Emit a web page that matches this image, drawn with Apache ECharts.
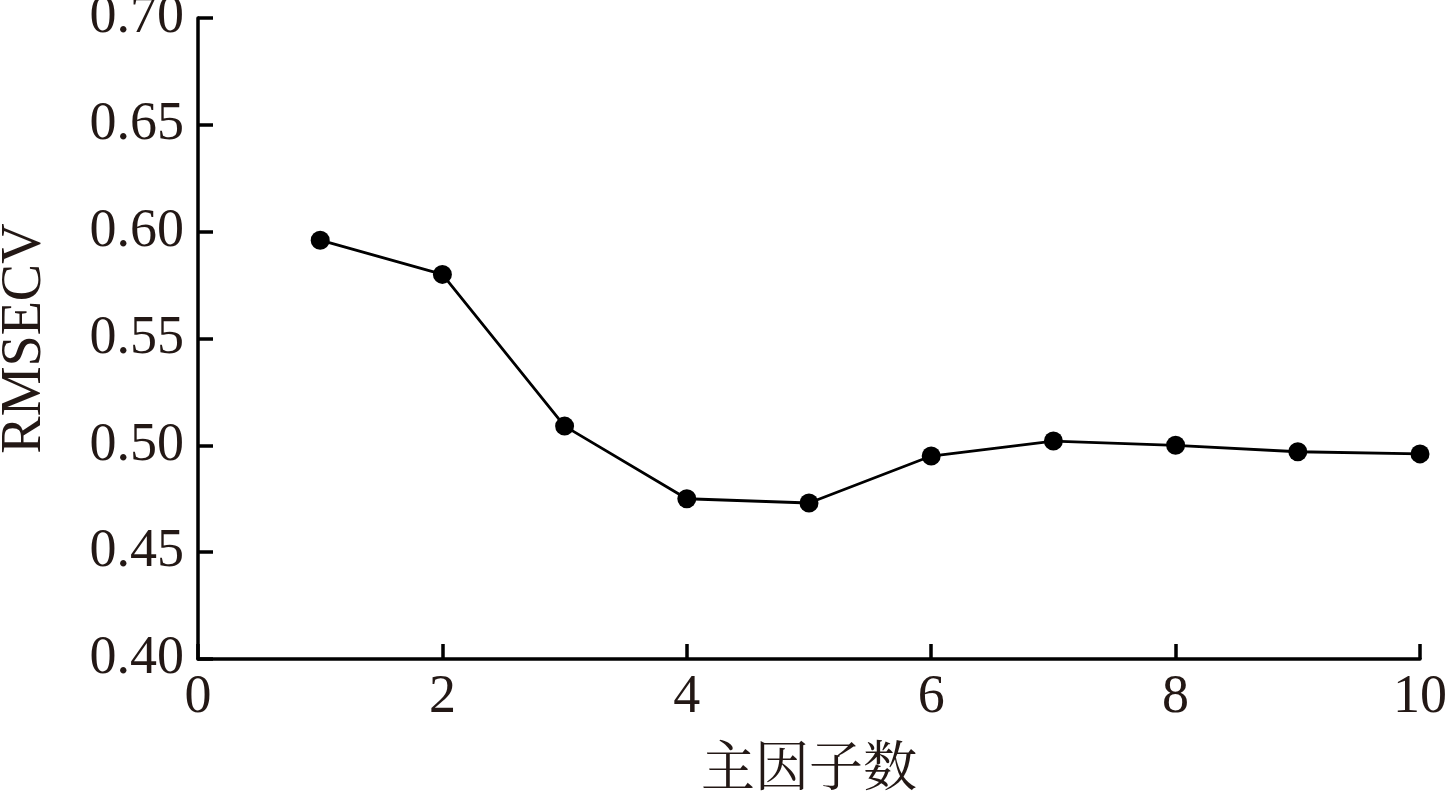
<!DOCTYPE html>
<html>
<head>
<meta charset="utf-8">
<script src="https://cdn.jsdelivr.net/npm/echarts@6/dist/echarts.min.js"></script>
<style>
  html, body { margin: 0; padding: 0; background: #fff; }
  #chart { width: 1447px; height: 797px; }
</style>
</head>
<body>
<div id="chart"></div>
<script>
const factors = [1, 2, 3, 4, 5, 6, 7, 8, 9, 10];
const rmsecv = [0.596, 0.580, 0.509, 0.475, 0.473, 0.495, 0.502, 0.500, 0.497, 0.496];

const chart = echarts.init(document.getElementById("chart"));
const serif = "'Liberation Serif', 'Noto Serif CJK SC', 'Noto Sans CJK SC', serif";

chart.setOption({
  animation: false,
  grid: { left: 198, right: 27, top: 18, bottom: 138, outerBoundsMode: "none", containLabel: false },
  xAxis: {
    type: "value",
    min: 0,
    max: 10,
    interval: 2,
    name: "主因子数",
    nameLocation: "middle",
    nameGap: 86,
    nameTextStyle: { fontFamily: serif, fontSize: 54, color: "#231815" },
    axisLine: { lineStyle: { color: "#000", width: 3.5 } },
    axisTick: { inside: true, length: 15, lineStyle: { color: "#000", width: 3.5 } },
    axisLabel: { fontFamily: serif, fontSize: 54, color: "#231815", margin: 12 },
    splitLine: { show: false },
  },
  yAxis: {
    type: "value",
    min: 0.4,
    max: 0.7,
    interval: 0.05,
    name: "RMSECV",
    nameLocation: "middle",
    nameGap: 145,
    nameTextStyle: { fontFamily: serif, fontSize: 56, color: "#231815" },
    axisLine: { lineStyle: { color: "#000", width: 3.5 } },
    axisTick: { inside: true, length: 15, lineStyle: { color: "#000", width: 3.5 } },
    axisLabel: {
      fontFamily: serif,
      fontSize: 54,
      color: "#231815",
      margin: 14,
      padding: [8, 0, 0, 0],
      formatter: (v) => v.toFixed(2),
    },
    splitLine: { show: false },
  },
  series: [
    {
      type: "line",
      data: factors.map((x, i) => [x, rmsecv[i]]),
      symbol: "circle",
      symbolSize: 19,
      itemStyle: { color: "#000" },
      lineStyle: { color: "#000", width: 2.8 },
    },
  ],
});
</script>
</body>
</html>
